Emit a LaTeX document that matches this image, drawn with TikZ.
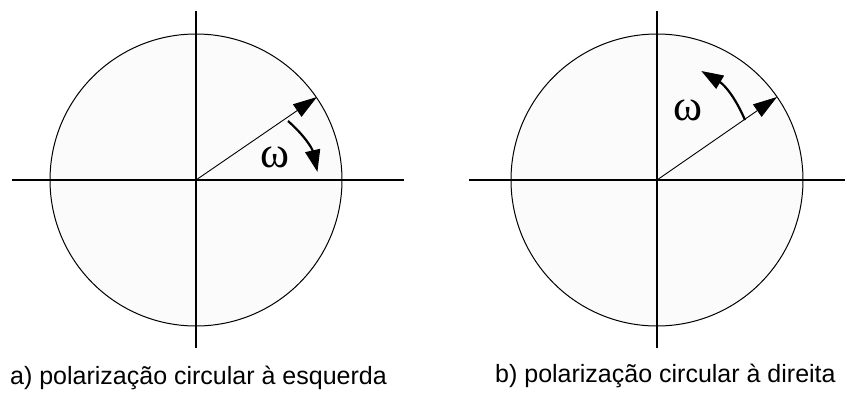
\documentclass[tikz,border=0pt]{standalone}
\usepackage{fontspec}
\setmainfont{Liberation Sans}
\newfontfamily\omegafont{Liberation Serif}
\usetikzlibrary{arrows.meta}
\begin{document}
\begin{tikzpicture}[x=1pt,y=-1pt,
  axis/.style={line width=2pt},
  circ/.style={line width=1pt,fill=black!1.5},
  vecline/.style={line width=0.9pt,-{Triangle[length=24pt,width=15pt]}},
  rot/.style={line width=2.2pt,-{Triangle[length=22pt,width=15pt]},shorten >=-2pt},
  omeganode/.style={font=\omegafont\fontsize{44}{48}\selectfont,inner sep=0pt},
  caption/.style={font=\fontsize{25}{30}\selectfont,inner sep=0pt,anchor=base west}]
\useasboundingbox (0,0) rectangle (852,392);
% left diagram
\coordinate (OL) at (196,180);
\coordinate (LW) at (12,180);
\coordinate (LE) at (404,180);
\coordinate (LN) at (196,11);
\coordinate (LS) at (196,348);
\draw[circ] (OL) circle[radius=146];
\draw[axis] (LW) -- (LE);
\draw[axis] (LN) -- (LS);
\coordinate (LP) at (317,97);
\draw[vecline] (OL) -- (LP);
\coordinate (LA1) at (288,121);
\coordinate (LA2) at (317,170);
\draw[rot] (LA1) to[bend left=18] (LA2);
\node[omeganode] (LOm) at (275,157) {ω};
\node[caption] (LCap) at (10,384) {a) polarização circular à esquerda};
% right diagram
\coordinate (OR) at (657,180);
\coordinate (RW) at (469,180);
\coordinate (RE) at (845,180);
\coordinate (RN) at (657,11);
\coordinate (RS) at (657,348);
\draw[circ] (OR) circle[radius=146];
\draw[axis] (RW) -- (RE);
\draw[axis] (RN) -- (RS);
\coordinate (RP) at (777,97);
\draw[vecline] (OR) -- (RP);
\coordinate (RA1) at (745,120);
\coordinate (RA2) at (703,72);
\draw[rot] (RA1) to[bend right=18] (RA2);
\node[omeganode] (ROm) at (688,110) {ω};
\node[caption] (RCap) at (495,382) {b) polarização circular à direita};
\end{tikzpicture}
\end{document}
